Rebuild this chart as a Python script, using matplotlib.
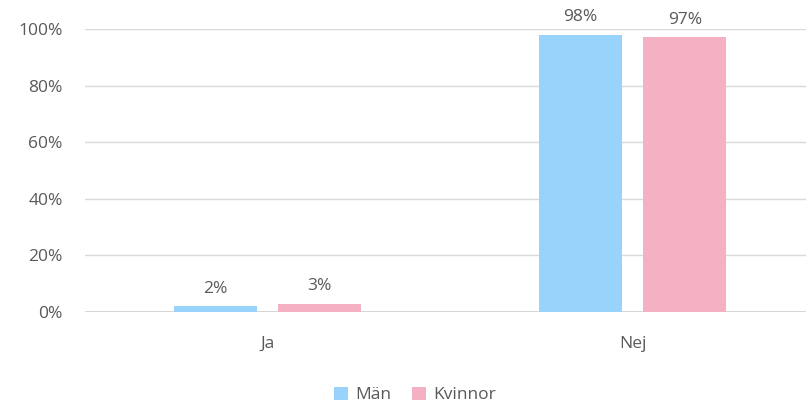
import numpy as np
import matplotlib
matplotlib.use("Agg")
from matplotlib import pyplot as plt
from matplotlib.ticker import PercentFormatter

categories = ["Ja", "Nej"]
series = ["Män", "Kvinnor"]
man = [0.02, 0.98]
kvinnor = [0.03, 0.97]
colors = ["#97D3FB", "#F4B1C3"]
text_color = "#595959"

plt.rcParams['font.family'] = ['Open Sans', 'DejaVu Sans']

fig = plt.figure(figsize=(8.09, 4.05), dpi=100)
ax = fig.add_axes([85 / 809, 93 / 405, 721 / 809, 283 / 405])

x = np.arange(len(categories))
width = 0.227
offset = 0.143

for vals, off, col, name in [(man, -offset, colors[0], series[0]),
                             (kvinnor, offset, colors[1], series[1])]:
    bars = ax.bar(x + off, vals, width, color=col, label=name, zorder=3)
    for b, v in zip(bars, vals):
        ax.text(b.get_x() + b.get_width() / 2, v + 0.062, f"{round(v * 100)}%",
                ha='center', va='center', fontsize=12.5, color=text_color,
                clip_on=False)

ax.set_xlim(-0.5, 1.475)
ax.set_ylim(0, 1.0)
ax.set_yticks(np.arange(0, 1.01, 0.2))
ax.yaxis.set_major_formatter(PercentFormatter(1.0, decimals=0))
ax.set_xticks(x)
ax.set_xticklabels(categories)
ax.tick_params(axis='both', length=0, labelsize=12.5, colors=text_color)
ax.tick_params(axis='y', pad=16)
ax.tick_params(axis='x', pad=17)
ax.grid(axis='y', color="#D9D9D9", linewidth=1, zorder=0)
for s in ax.spines.values():
    s.set_visible(False)
ax.axhline(0, color="#D0D0D0", linewidth=1.2, zorder=1)

fig.legend(loc='center', bbox_to_anchor=(415 / 809, 1 - 395 / 405), ncol=2,
           frameon=False, fontsize=12.5, labelcolor=text_color,
           handlelength=0.8, handleheight=0.8, handletextpad=0.4, columnspacing=1.2)

fig.savefig("out.png", dpi=100)
